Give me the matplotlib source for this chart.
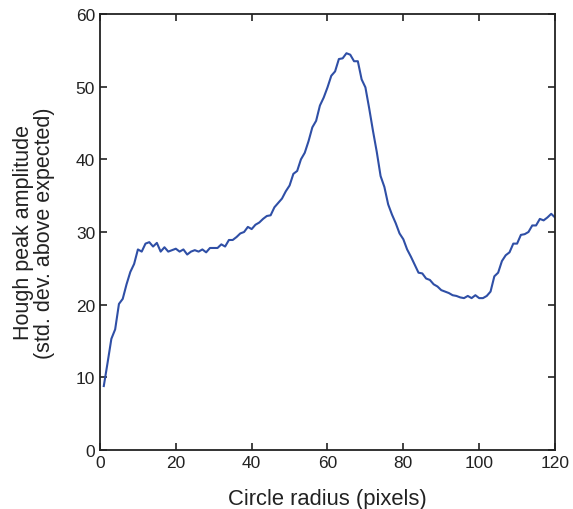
import numpy as np
import matplotlib.pyplot as plt

plt.rcParams['font.family'] = ['Liberation Sans', 'DejaVu Sans']

radius = np.arange(1, 121)
amplitude = [
    8.8, 12.0, 15.3, 16.6, 20.1, 20.8, 22.8, 24.5, 25.6, 27.6,
    27.3, 28.4, 28.6, 28.0, 28.5, 27.3, 27.9, 27.3, 27.5, 27.7,
    27.3, 27.6, 26.9, 27.3, 27.5, 27.3, 27.6, 27.2, 27.8, 27.8,
    27.8, 28.3, 28.0, 28.9, 28.9, 29.3, 29.8, 30.0, 30.7, 30.4,
    31.0, 31.3, 31.8, 32.2, 32.3, 33.4, 34.0, 34.6, 35.6, 36.4,
    38.0, 38.4, 40.0, 40.9, 42.5, 44.4, 45.3, 47.4, 48.5, 49.9,
    51.5, 52.1, 53.8, 53.9, 54.6, 54.4, 53.5, 53.5, 51.0, 49.9,
    47.0, 43.9, 41.0, 37.7, 36.2, 33.8, 32.4, 31.2, 29.8, 29.0,
    27.6, 26.6, 25.5, 24.4, 24.3, 23.6, 23.4, 22.8, 22.5, 22.0,
    21.8, 21.6, 21.3, 21.2, 21.0, 20.9, 21.2, 20.9, 21.3, 20.9,
    20.9, 21.2, 21.8, 23.9, 24.4, 26.0, 26.8, 27.2, 28.4, 28.4,
    29.6, 29.7, 30.0, 30.9, 30.9, 31.8, 31.6, 32.0, 32.5, 32.0,
]

fig = plt.figure(figsize=(5.73, 5.10), dpi=100)
ax = fig.add_axes([0.1745, 0.1157, 0.7941, 0.8549])
ax.plot(radius, amplitude, color='#2f4fa6', lw=1.5)

ax.set_xlim(0, 120)
ax.set_ylim(0, 60)
ax.set_xticks(range(0, 121, 20))
ax.set_yticks(range(0, 61, 10))
ax.tick_params(direction='in', top=True, right=True, length=5, width=1.2,
               labelsize=12.5, colors='#222222')
for s in ax.spines.values():
    s.set_linewidth(1.3)
    s.set_color('#222222')

ax.set_xlabel('Circle radius (pixels)', fontsize=15.8, color='#222222')
ax.set_ylabel('Hough peak amplitude\n(std. dev. above expected)', fontsize=15.5,
              color='#222222', linespacing=1.05)
ax.xaxis.set_label_coords(0.5, -0.087)
ax.yaxis.set_label_coords(-0.098, 0.5)

fig.savefig('out.png', dpi=100)
